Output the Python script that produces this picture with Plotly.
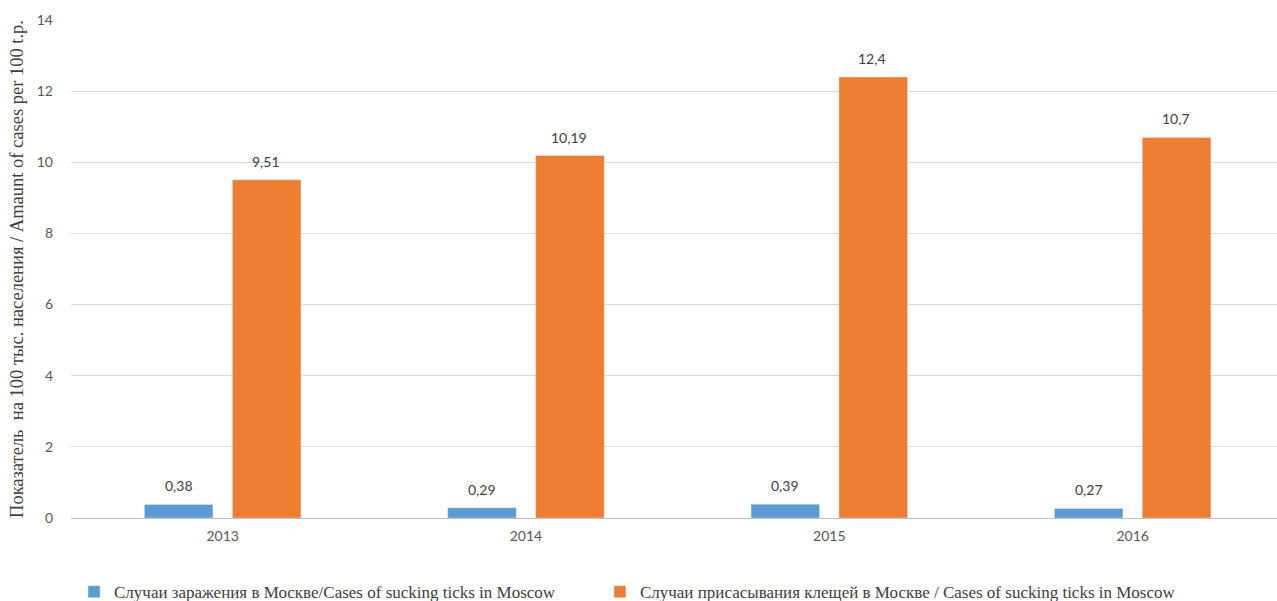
import plotly.graph_objects as go

years = ["2013", "2014", "2015", "2016"]
infections = [0.38, 0.29, 0.39, 0.27]
bites = [9.51, 10.19, 12.4, 10.7]
name_infections = "Случаи заражения в Москве/Cases of sucking ticks in Moscow"
name_bites = "Случаи присасывания клещей в Москве / Cases of sucking ticks in Moscow"
y_title = "Показатель  на 100 тыс. населения / Amaunt of cases per 100 t.p."
y_ticks = [0, 2, 4, 6, 8, 10, 12, 14]

blue = "#5B9BD5"
orange = "#ED7D31"

def fmt(v):
    return str(v).replace(".", ",")

fig = go.Figure()
fig.add_trace(go.Bar(x=years, y=infections, name=name_infections, marker_color=blue,
                     legend="legend"))
fig.add_trace(go.Bar(x=years, y=bites, name=name_bites, marker_color=orange,
                     legend="legend2"))

annotations = []
for series, shift in ((infections, -44), (bites, 43)):
    for i, v in enumerate(series):
        annotations.append(dict(
            x=i, y=v, xref="x", yref="y", text=fmt(v), showarrow=False,
            xshift=shift, yshift=8, yanchor="bottom",
            font=dict(family="Lato", size=14, color="#404040"),
        ))

legend_font = dict(family="Liberation Serif", size=17, color="#404040")
fig.update_layout(
    width=1277, height=601,
    margin=dict(l=71, r=0, t=20, b=83, autoexpand=False),
    paper_bgcolor="white", plot_bgcolor="white",
    barmode="group", bargap=0.42, bargroupgap=0.22,
    annotations=annotations,
    showlegend=True,
    legend=dict(
        orientation="h", x=0.0025, xanchor="left", y=-0.185, yanchor="bottom",
        font=legend_font, itemwidth=30,
    ),
    legend2=dict(
        orientation="h", x=0.4386, xanchor="left", y=-0.185, yanchor="bottom",
        font=legend_font, itemwidth=30,
    ),
    xaxis=dict(
        type="category",
        range=[-0.5, 3.476], showgrid=False, showline=False, ticks="",
        ticklabelstandoff=8,
        tickfont=dict(family="Lato", size=14, color="#595959"),
    ),
    yaxis=dict(
        range=[0, 14], tickvals=y_ticks, ticktext=[str(t) for t in y_ticks],
        showgrid=True, gridcolor="#D9D9D9", gridwidth=1,
        zeroline=True, zerolinecolor="#BFBFBF", zerolinewidth=1,
        showline=False, ticks="", ticklabelstandoff=17,
        tickfont=dict(family="Lato", size=14, color="#595959"),
        title=dict(text=y_title, standoff=8,
                   font=dict(family="Liberation Serif", size=18.5, color="#404040")),
    ),
)

fig.write_html("out.html")
